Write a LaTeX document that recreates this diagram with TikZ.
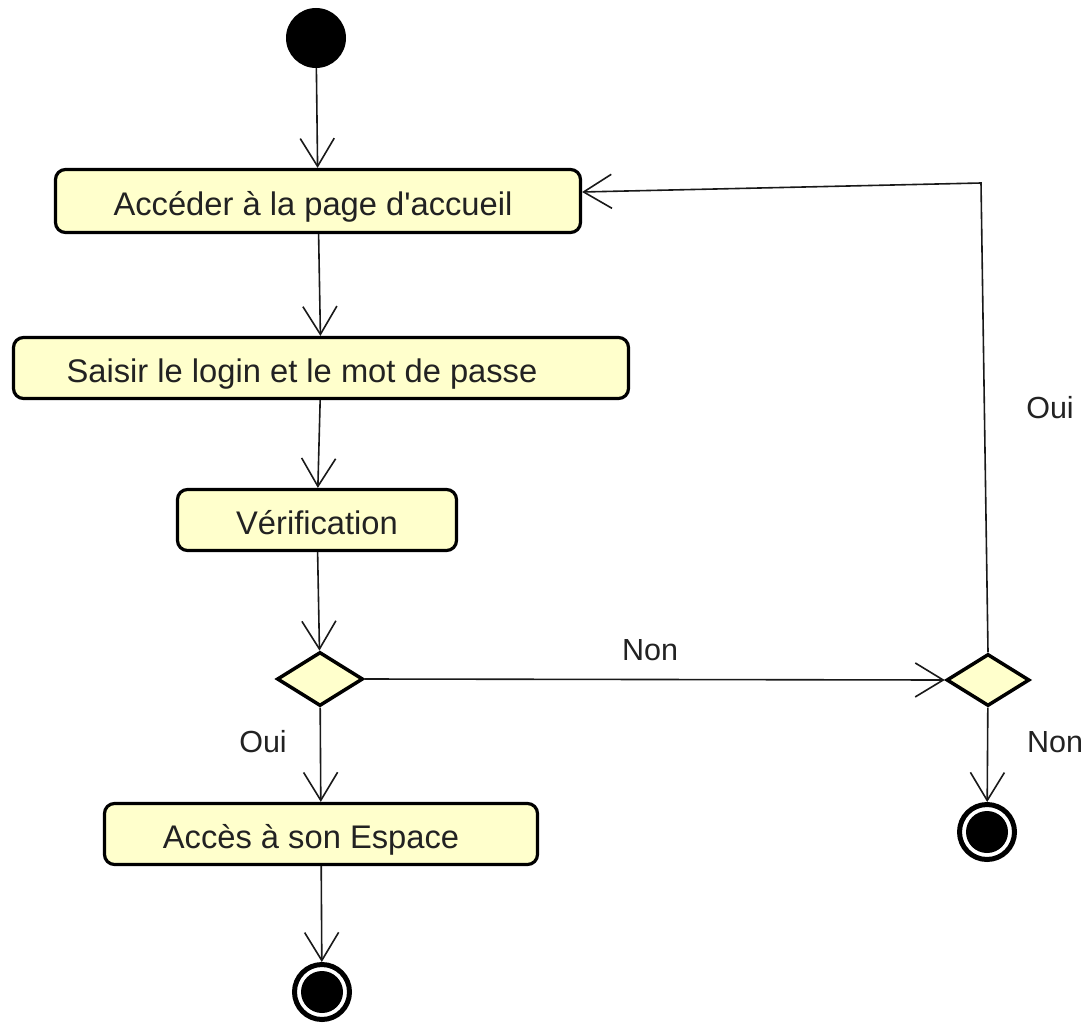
\documentclass[tikz,border=0pt]{standalone}
\usepackage{fontspec}
\setmainfont{Liberation Sans}[Ligatures=TeXOff]
\usetikzlibrary{shapes.geometric,arrows.meta}
\definecolor{actfill}{HTML}{FFFFCC}
\definecolor{txt}{HTML}{222222}
\newcommand{\shiftl}[2]{\hspace*{-#1pt}#2\hspace*{#1pt}}
\begin{document}
\begin{tikzpicture}[x=1pt,y=-1pt,
  act/.style={draw=black, line width=3.2pt, fill=actfill, rounded corners=10pt, inner sep=0pt, text=txt, text height=29.4pt, text depth=0pt, font=\fontsize{32.7}{36}\selectfont},
  dec/.style={diamond, draw=black, line width=3.5pt, fill=actfill, inner sep=0pt},
  flow/.style={draw=black!90, line width=1.6pt, -{Straight Barb[length=28pt,width=34pt,line width=1.6pt]}},
  lbl/.style={text=txt, font=\fontsize{30.5}{34}\selectfont, inner sep=0pt},
  startnode/.style={circle, fill=black, minimum size=60pt, inner sep=0pt},
  endnode/.style={circle, draw=black, line width=5pt, minimum size=55pt, inner sep=0pt,
    path picture={\fill[black] (path picture bounding box.center) circle (21pt);}}
]
\path[use as bounding box, fill=white] (0,0) rectangle (1086,1022);

\node[startnode] (s) at (316,38) {};
\node[act, minimum width=525pt, minimum height=63pt] (b1) at (318,201) {\shiftl{5}{Accéder à la page d'accueil}};
\node[act, minimum width=615pt, minimum height=61pt] (b2) at (321,368) {\shiftl{19}{Saisir le login et le mot de passe}};
\node[act, minimum width=279pt, minimum height=61pt] (b3) at (317,520) {Vérification};
\node[dec, minimum width=86pt, minimum height=54pt] (d1) at (320,679) {};
\node[dec, minimum width=83pt, minimum height=52pt] (d2) at (988,680) {};
\node[act, minimum width=433pt, minimum height=61pt] (b4) at (321,834) {\shiftl{10}{Accès à son Espace}};
\node[endnode] (e1) at (322,992) {};
\node[endnode] (e2) at (987,832) {};
\coordinate (c1) at (981,183);

\node[lbl] (lnon1) at (650,650) {Non};
\node[lbl] (loui1) at (263,742) {Oui};
\node[lbl] (lnon2) at (1055,742) {Non};
\node[lbl] (loui2) at (1050,408) {Oui};

\draw[flow] (s) -- (b1);
\draw[flow] (b1) -- (b2);
\draw[flow] (b2) -- (b3);
\draw[flow] (b3) -- (d1);
\draw[flow] (d1) -- (b4);
\draw[flow] (b4) -- (e1);
\draw[flow] (d1.east) -- (d2.west);
\draw[flow] (d2) -- (e2);
\draw[flow] (d2.north) -- (c1) -- ([yshift=9pt]b1.east);
\end{tikzpicture}
\end{document}
